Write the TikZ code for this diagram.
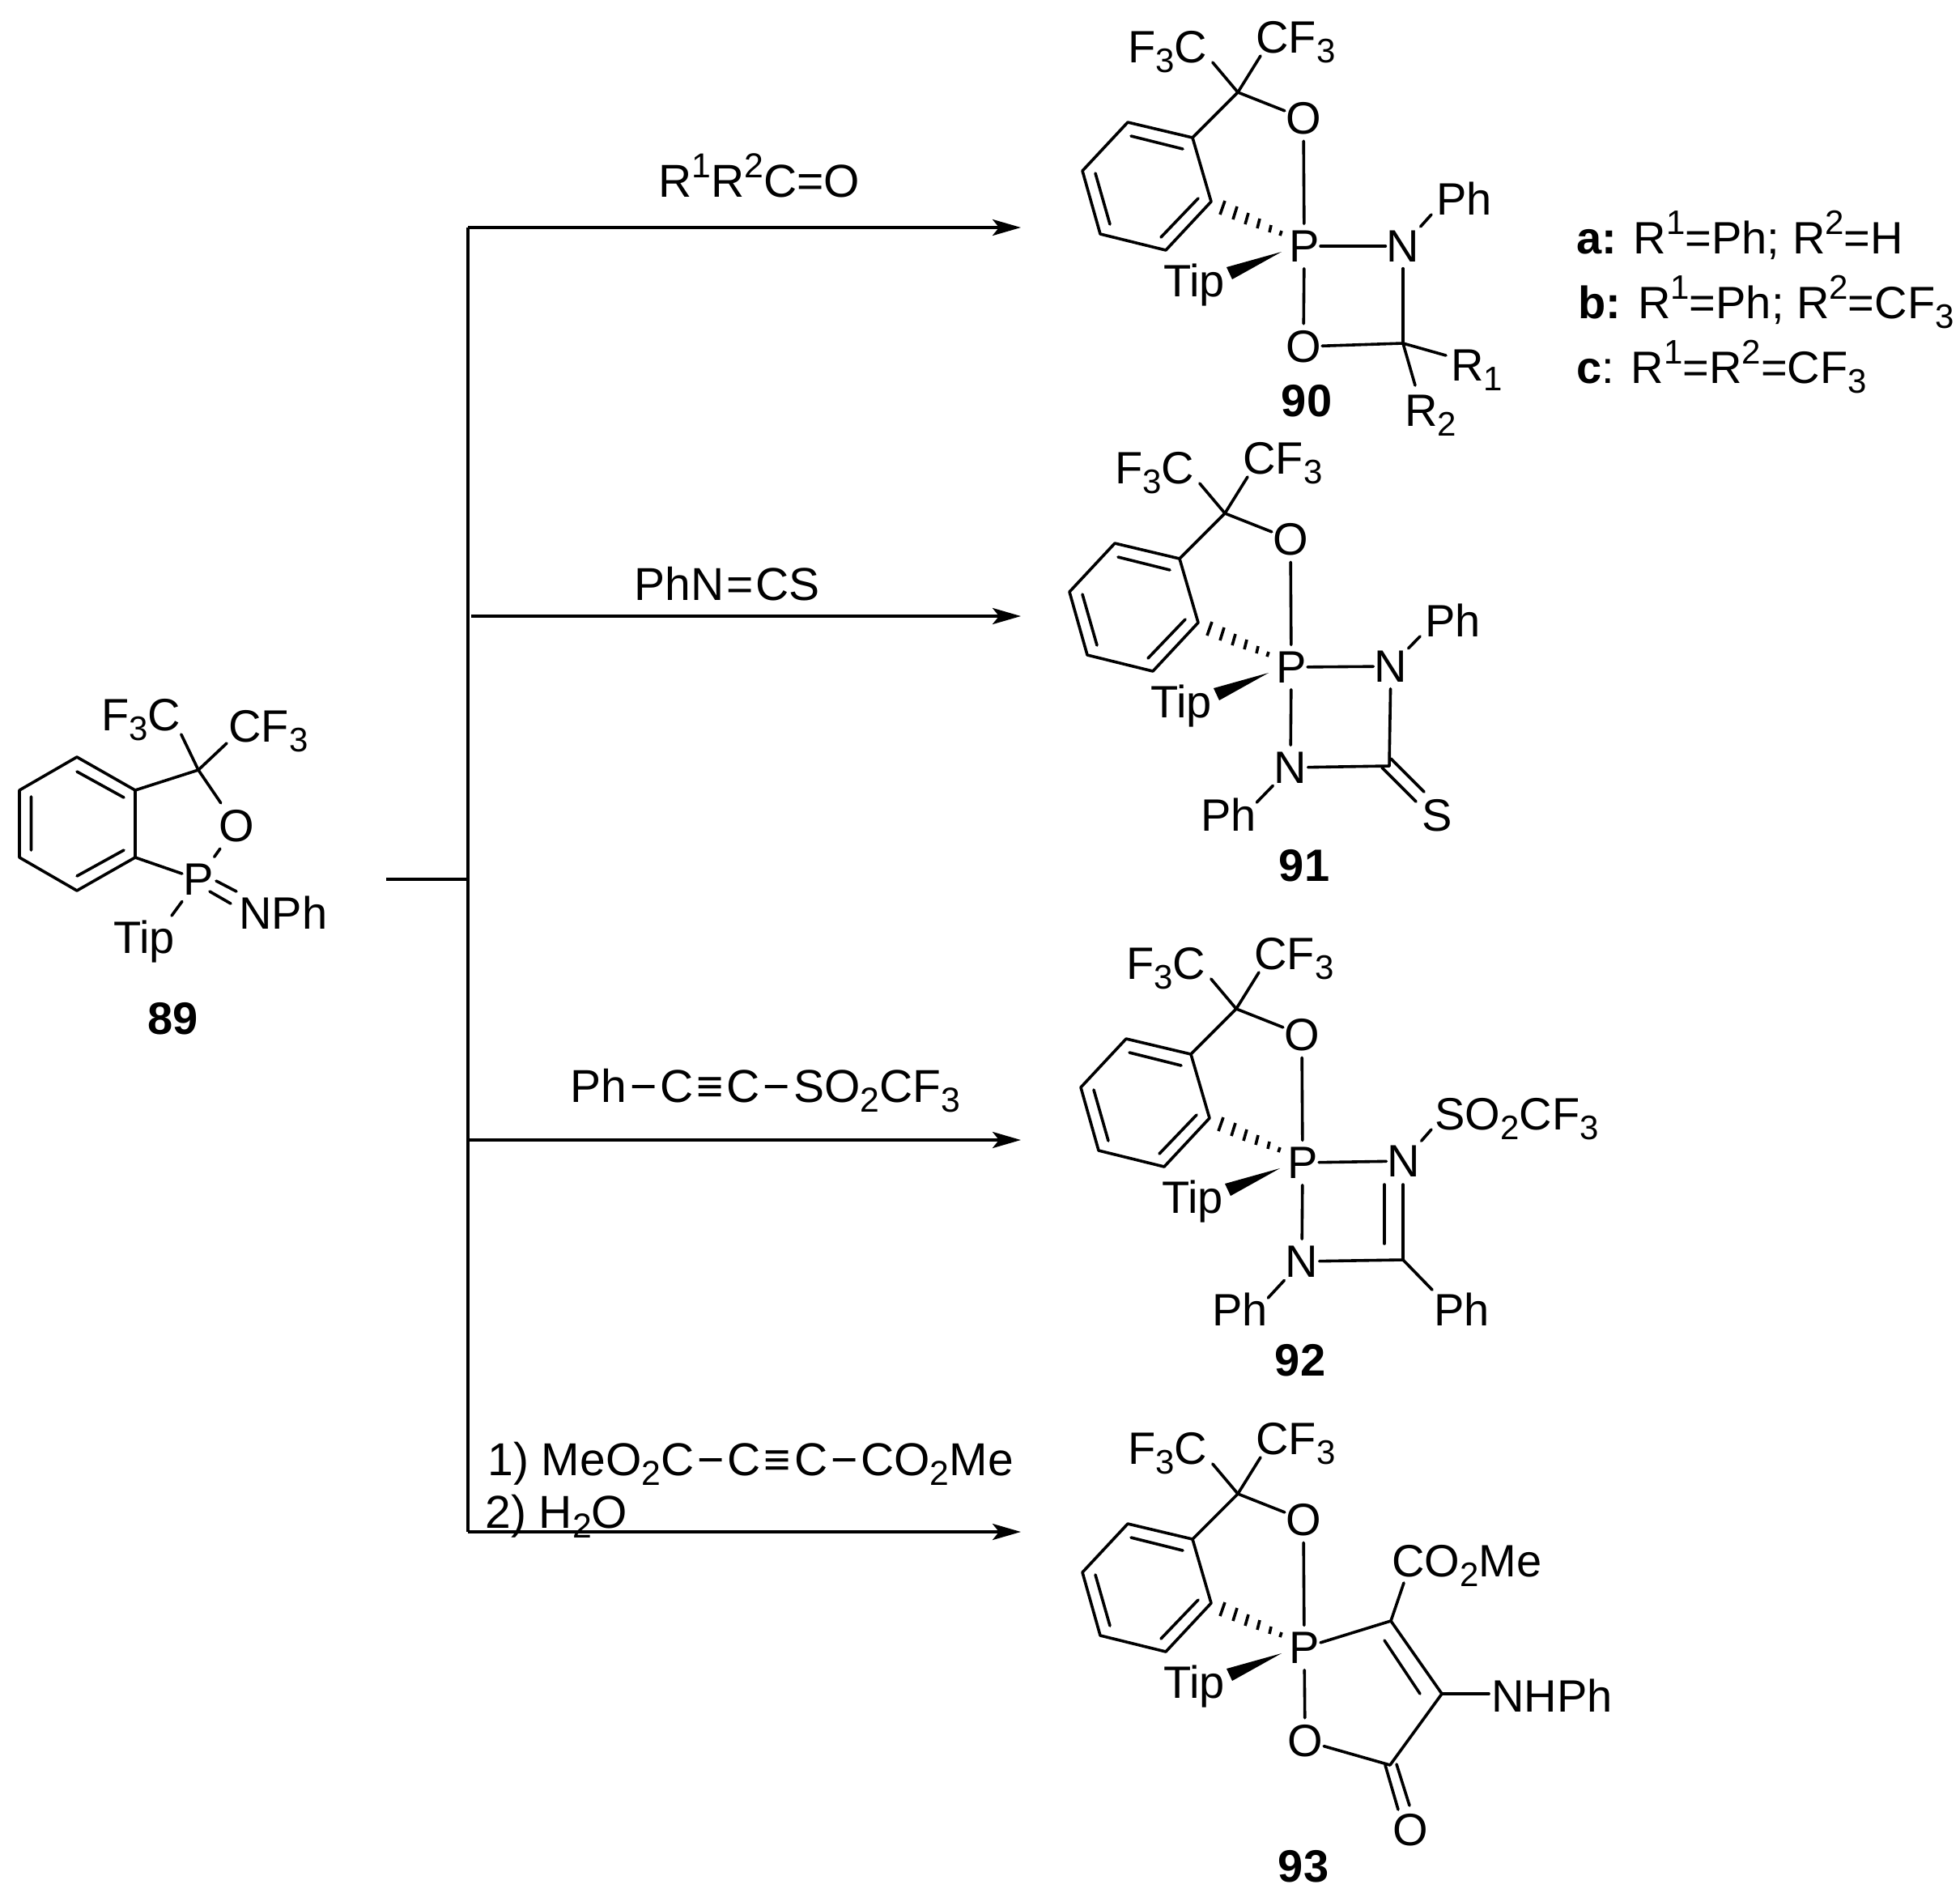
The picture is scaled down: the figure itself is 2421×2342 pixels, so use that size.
\documentclass[tikz,border=0pt]{standalone}
\usepackage{fontspec}
\setmainfont{Liberation Sans}
\usetikzlibrary{arrows.meta}
\newcommand\ssub[1]{\raisebox{-.22em}{\scalebox{.75}{#1}}}
\newcommand\ssup[1]{\raisebox{.42em}{\scalebox{.75}{#1}}}
\newcommand\bnd{\kern.07em−\kern.07em}
\newcommand\trp{\kern.07em≡\kern.07em}
\tikzset{
  bond/.style={line width=1.8pt,line cap=round,line join=round},
  rule/.style={line width=1.9pt},
  rxn/.style={rule,-{Stealth[length=17.5pt,width=10pt,inset=4pt]}},
  atom/.style={inner xsep=.5pt,inner ysep=4pt,anchor=center},
  lbl/.style={inner sep=0pt,anchor=base west},
  rgt/.style={lbl,font=\fontsize{28.5}{32}\selectfont},
  num/.style={inner sep=0pt,anchor=center,font=\fontsize{28}{32}\selectfont\bfseries}
}
% shared spiro core, written in the coordinates of compound 90
\newcommand\corepart{%
  \coordinate (c1) at (1473,170); \coordinate (c2) at (1393,151);
  \coordinate (c3) at (1337,211); \coordinate (c4) at (1359,289);
  \coordinate (c5) at (1440,309); \coordinate (c6) at (1496,249);
  \coordinate (q) at (1529,114);
  \draw[bond] (c1)--(c2)--(c3)--(c4)--(c5)--(c6)--cycle;
  \draw[bond] (1397,168)--(1461,184) (1353,214)--(1371,277) (1480,245)--(1434,293);
  \node[atom] (o) at (1610,146) {O};
  \node[atom] (p) at (1611,304) {P};
  \node[lbl] (f3c) at (1393,77) {F\ssub{3}C};
  \node[lbl] (cf3) at (1551,65) {CF\ssub{3}};
  \node[lbl] (tip) at (1437,366) {Tip};
  \draw[bond] (c1)--(q);
  \draw[bond] (q)--([xshift=3pt]f3c.base east);
  \draw[bond] (q)--([shift={(3pt,-2pt)}]cf3.base west);
  \draw[bond] (q)--(o);
  \draw[bond] (o)--(p);
  \fill (1583,311)--(1515,330)--(1522,345)--cycle;
  \draw[line width=1.8pt,line cap=butt]
    (1513,248)--(1507,265) (1528,255)--(1523,271) (1542,263)--(1538,277)
    (1556,270)--(1553,282) (1570,278)--(1568,287) (1583,285)--(1581,291);
}
\begin{document}
\begin{tikzpicture}[x=.5pt,y=-.5pt,font=\fontsize{28}{32}\selectfont]
\useasboundingbox (0,0) rectangle (2421,2342);

% reaction scheme lines
\coordinate (vtop) at (578,281);
\coordinate (vbot) at (578,1892);
\coordinate (bl) at (477,1086);
\coordinate (bm) at (578,1086);
\coordinate (a1) at (1261,281);
\coordinate (a2s) at (582,761);
\coordinate (a2) at (1261,761);
\coordinate (a3s) at (578,1408);
\coordinate (a3) at (1261,1408);
\coordinate (a4) at (1261,1892);
\draw[rule,line join=miter] (a1 -| vtop)--(vbot);
\draw[rule] (bl)--(bm);
\draw[rxn] (vtop)--(a1);
\draw[rxn] (a2s)--(a2);
\draw[rxn] (a3s)--(a3);
\draw[rxn] (vbot)--(a4);

% reagents
\node[rgt] (r1) at (813,243) {R\ssup{1}R\ssup{2}C=O};
\node[rgt] (r2) at (783,741) {PhN\kern.05em=\kern.05em CS};
\node[rgt] (r3) at (704,1361) {Ph\bnd C\trp C\bnd SO\ssub{2}CF\ssub{3}};
\node[rgt] (r4a) at (602,1822) {1) MeO\ssub{2}C\bnd C\trp C\bnd CO\ssub{2}Me};
\node[rgt] (r4b) at (599,1887) {2) H\ssub{2}O};

% substituent key
\node[lbl] (ka) at (1947,313) {\textbf{a:} R\ssup{1}=Ph; R\ssup{2}=H};
\node[lbl] (kb) at (1949,393) {\textbf{b:} R\ssup{1}=Ph; R\ssup{2}=CF\ssub{3}};
\node[lbl] (kc) at (1947,473) {\textbf{c}: R\ssup{1}=R\ssup{2}=CF\ssub{3}};

% compound 89
\begin{scope}[name prefix=m89-]
  \coordinate (c1) at (167,976); \coordinate (c2) at (95,935);
  \coordinate (c3) at (24,976); \coordinate (c4) at (24,1059);
  \coordinate (c5) at (95,1100); \coordinate (c6) at (167,1059);
  \coordinate (q) at (245,951);
  \draw[bond] (c1)--(c2)--(c3)--(c4)--(c5)--(c6)--cycle;
  \draw[bond] (95,953)--(153,985) (38.5,984)--(38.5,1050) (95,1082)--(153,1050);
  \node[atom] (o) at (292,1020) {O};
  \node[atom] (p) at (245,1086) {P};
  \node[lbl] (f3c) at (125,902) {F\ssub{3}C};
  \node[lbl] (cf3) at (282,916) {CF\ssub{3}};
  \node[lbl] (nph) at (295,1147) {NPh};
  \node[lbl] (tip) at (140,1177) {Tip};
  \draw[bond] (c1)--(q);
  \draw[bond] (q)--([shift={(0pt,-2.5pt)}]f3c.base east);
  \draw[bond] (q)--([shift={(-1pt,-1pt)}]cf3.base west);
  \draw[bond] (q)--(o);
  \draw[bond] (o)--(p);
  \draw[bond] (c6)--(p);
  \coordinate (d1) at (267,1088); \coordinate (d2) at (292,1101);
  \coordinate (d3) at (259,1101); \coordinate (d4) at (285,1116);
  \draw[bond] (d1)--(d2);
  \draw[bond] (d3)--(d4);
  \draw[bond] (p)--([shift={(36pt,23pt)}]tip.base west);
  \node[num] (n) at (214,1258) {89};
\end{scope}

% compound 90
\begin{scope}[name prefix=m90-]
  \corepart
  \node[atom] (n1) at (1733,304) {N};
  \node[atom] (o2) at (1610,428) {O};
  \coordinate (c) at (1733,424);
  \node[lbl] (ph) at (1774,265) {Ph};
  \node[lbl] (ra) at (1792,470) {R\ssub{1}};
  \node[lbl] (rb) at (1735,526) {R\ssub{2}};
  \draw[bond] (p)--(n1);
  \draw[bond] (p)--(o2);
  \draw[bond] (n1)--(c);
  \draw[bond] (o2)--(c);
  \draw[bond] (n1)--([xshift=-3pt]ph.base west);
  \draw[bond] (c)--([shift={(-3pt,15.5pt)}]ra.base west);
  \draw[bond] (c)--([shift={(6.5pt,25pt)}]rb.base west);
  \node[num] (n) at (1614,495) {90};
\end{scope}

% compound 91
\begin{scope}[name prefix=m91-]
  \begin{scope}[shift={(-16,520)}]
    \corepart
  \end{scope}
  \node[atom] (n1) at (1718,823) {N};
  \node[atom] (n2) at (1594,948) {N};
  \node[atom] (s) at (1775,1007) {S};
  \coordinate (c) at (1716,946);
  \node[lbl] (pha) at (1760,786) {Ph};
  \node[lbl] (phb) at (1483,1026) {Ph};
  \draw[bond] (p)--(n1);
  \draw[bond] (p)--(n2);
  \draw[bond] (n1)--(c);
  \draw[bond] (n2)--(c);
  \draw[bond] (n1)--([xshift=-3pt]pha.base west);
  \draw[bond] (n2)--([shift={(0pt,17.5pt)}]phb.base east);
  \coordinate (d1) at (1718,937); \coordinate (d2) at (1759,978);
  \coordinate (d3) at (1707,948); \coordinate (d4) at (1749,990);
  \draw[bond] (d1)--(d2);
  \draw[bond] (d3)--(d4);
  \node[num] (n) at (1611,1069) {91};
\end{scope}

% compound 92
\begin{scope}[name prefix=m92-]
  \begin{scope}[shift={(-2,1132)}]
    \corepart
  \end{scope}
  \node[atom] (n1) at (1734,1434) {N};
  \node[atom] (n2) at (1608,1558) {N};
  \coordinate (c) at (1733,1556);
  \node[lbl] (so) at (1772,1395) {SO\ssub{2}CF\ssub{3}};
  \node[lbl] (pha) at (1497,1637) {Ph};
  \node[lbl] (phb) at (1771,1637) {Ph};
  \draw[bond] (p)--(n1);
  \draw[bond] (p)--(n2);
  \draw[bond] (n2)--(c);
  \coordinate (d1) at (1733,1463); \coordinate (d2) at (1710,1463);
  \coordinate (d3) at (1710,1536);
  \draw[bond] (d1)--(c);
  \draw[bond] (d2)--(d3);
  \draw[bond] (n1)--([xshift=-2pt]so.base west);
  \draw[bond] (n2)--([shift={(0pt,17pt)}]pha.base east);
  \draw[bond] (c)--([shift={(-1pt,22pt)}]phb.base west);
  \node[num] (n) at (1606,1680) {92};
\end{scope}

% compound 93
\begin{scope}[name prefix=m93-]
  \begin{scope}[shift={(0,1731)}]
    \corepart
  \end{scope}
  \node[atom] (o2) at (1612,2150) {O};
  \coordinate (ca) at (1718,2002);
  \coordinate (cb) at (1781,2092);
  \coordinate (cc) at (1717,2180);
  \node[atom] (o3) at (1742,2260) {O};
  \node[lbl] (co) at (1719,1947) {CO\ssub{2}Me};
  \node[lbl] (nh) at (1842,2114) {NHPh};
  \draw[bond] (p)--(o2);
  \draw[bond] (p)--(ca);
  \draw[bond] (ca)--(cb);
  \draw[bond] (cb)--(cc);
  \draw[bond] (o2)--(cc);
  \draw[bond] (1710,2026)--(1754,2092);
  \draw[bond] (ca)--([shift={(7.5pt,-4pt)}]co.base west);
  \draw[bond] (cb)--([shift={(-1.5pt,11pt)}]nh.base west);
  \coordinate (d1) at (1711,2180); \coordinate (d2) at (1727,2235);
  \coordinate (d3) at (1725,2179); \coordinate (d4) at (1741,2230);
  \draw[bond] (d1)--(d2);
  \draw[bond] (d3)--(d4);
  \node[num] (n) at (1610,2305) {93};
\end{scope}
\end{tikzpicture}
\end{document}
